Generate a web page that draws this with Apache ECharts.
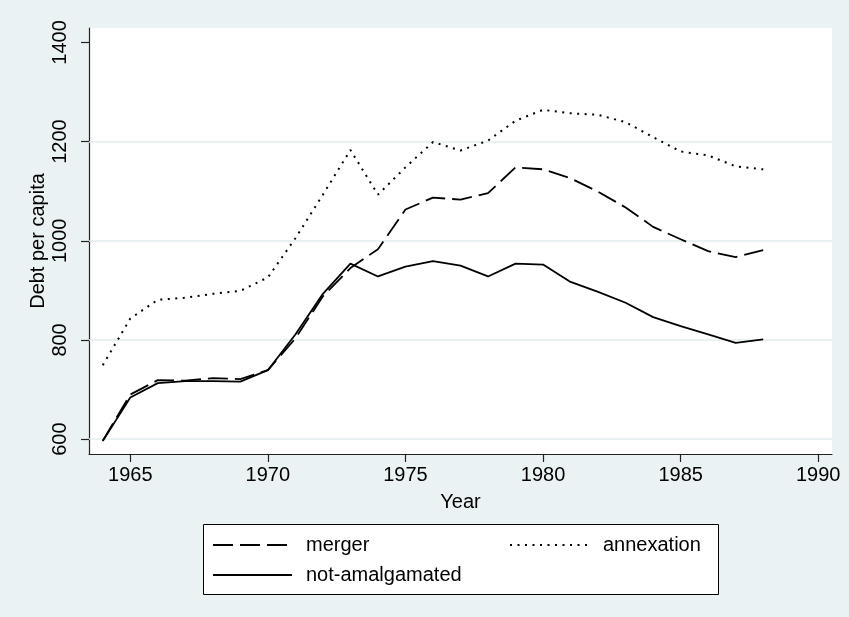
<!DOCTYPE html>
<html>
<head>
<meta charset="utf-8">
<script src="https://cdn.jsdelivr.net/npm/echarts@6/dist/echarts.min.js"></script>
<style>
html,body{margin:0;padding:0;background:#eaf2f3;}
#c{width:849px;height:617px;}
</style>
</head>
<body>
<div id="c"></div>
<script>
const years = [1964,1965,1966,1967,1968,1969,1970,1971,1972,1973,1974,1975,1976,1977,1978,1979,1980,1981,1982,1983,1984,1985,1986,1987,1988];
const merger = [597,690,719,718,723,721,739,803,888,945,983,1063,1087,1083,1096,1148,1144,1126,1099,1067,1028,1003,979,967,981];
const annexation = [749,843,881,885,893,899,926,1005,1093,1183,1093,1148,1199,1182,1202,1242,1264,1257,1254,1239,1209,1180,1172,1150,1144];
const notAmalgamated = [596,684,713,717,717,716,739,811,893,954,928,948,959,950,928,954,952,917,897,875,846,828,811,794,801];
const xTicks = [1965,1970,1975,1980,1985,1990];
const yTicks = [600,800,1000,1200,1400];
const gridValues = [600,800,1000,1200];

const FONT = "'Liberation Sans', Arial, Helvetica, sans-serif";
const pairs = arr => years.map((y,i)=>[y,arr[i]]);
const plain = v => String(v);

const chart = echarts.init(document.getElementById('c'), null, {renderer:'canvas'});
const legendText = {color:'#000', fontSize:20, fontFamily:FONT, padding:[0,0,0,9]};
const mkLegend = (name,left,top)=>({
  data:[name], left:left, top:top, padding:0, itemWidth:79, itemHeight:20,
  itemStyle:{color:'rgba(0,0,0,0)', borderColor:'rgba(0,0,0,0)', borderWidth:0},
  textStyle:legendText, selectedMode:false
});
chart.setOption({
  backgroundColor:'#eaf2f3',
  animation:false,
  grid:{left:89, top:28, right:17, bottom:163, show:true, backgroundColor:'#ffffff', borderWidth:0},
  xAxis:{
    type:'value', min:1963.5, max:1990.5,
    name:'Year', nameLocation:'middle', nameGap:38,
    nameTextStyle:{color:'#000', fontSize:20, fontFamily:FONT},
    axisLine:{show:true, onZero:false, lineStyle:{color:'#222', width:1.2}},
    axisTick:{show:true, length:8, customValues:xTicks, lineStyle:{color:'#222', width:1.2}},
    axisLabel:{customValues:xTicks, formatter:plain, margin:11, color:'#000', fontSize:20, fontFamily:FONT},
    splitLine:{show:false}
  },
  yAxis:{
    type:'value', min:570, max:1429,
    name:'Debt per capita', nameLocation:'middle', nameGap:41, nameMoveOverlap:false,
    nameTextStyle:{color:'#000', fontSize:20, fontFamily:FONT},
    axisLine:{show:true, onZero:false, lineStyle:{color:'#222', width:1.2}},
    axisTick:{show:true, length:8, customValues:yTicks, lineStyle:{color:'#222', width:1.2}},
    axisLabel:{customValues:yTicks, formatter:plain, rotate:90, margin:19, color:'#000', fontSize:20, fontFamily:FONT},
    splitLine:{show:false}
  },
  legend:[
    mkLegend('merger',212,535),
    mkLegend('annexation',509,535),
    mkLegend('not-amalgamated',212,565)
  ],
  graphic:[{
    type:'rect', left:203, top:524, z:0,
    shape:{width:515, height:70},
    style:{fill:'#ffffff', stroke:'#000', lineWidth:1}
  }],
  series:[
    {
      name:'merger', type:'line', data:pairs(merger), symbol:'none',
      lineStyle:{color:'#000', width:1.8, type:[20,7]}, itemStyle:{color:'#000'},
      markLine:{
        silent:true, symbol:'none', label:{show:false}, z:1,
        lineStyle:{color:'#e3ecef', width:1.5, type:'solid'},
        data:gridValues.map(v=>({yAxis:v}))
      }
    },
    {
      name:'annexation', type:'line', data:pairs(annexation), symbol:'none',
      lineStyle:{color:'#000', width:2, type:[2,5.5]}, itemStyle:{color:'#000'}
    },
    {
      name:'not-amalgamated', type:'line', data:pairs(notAmalgamated), symbol:'none',
      lineStyle:{color:'#000', width:1.8, type:'solid'}, itemStyle:{color:'#000'}
    }
  ]
});
</script>
</body>
</html>
